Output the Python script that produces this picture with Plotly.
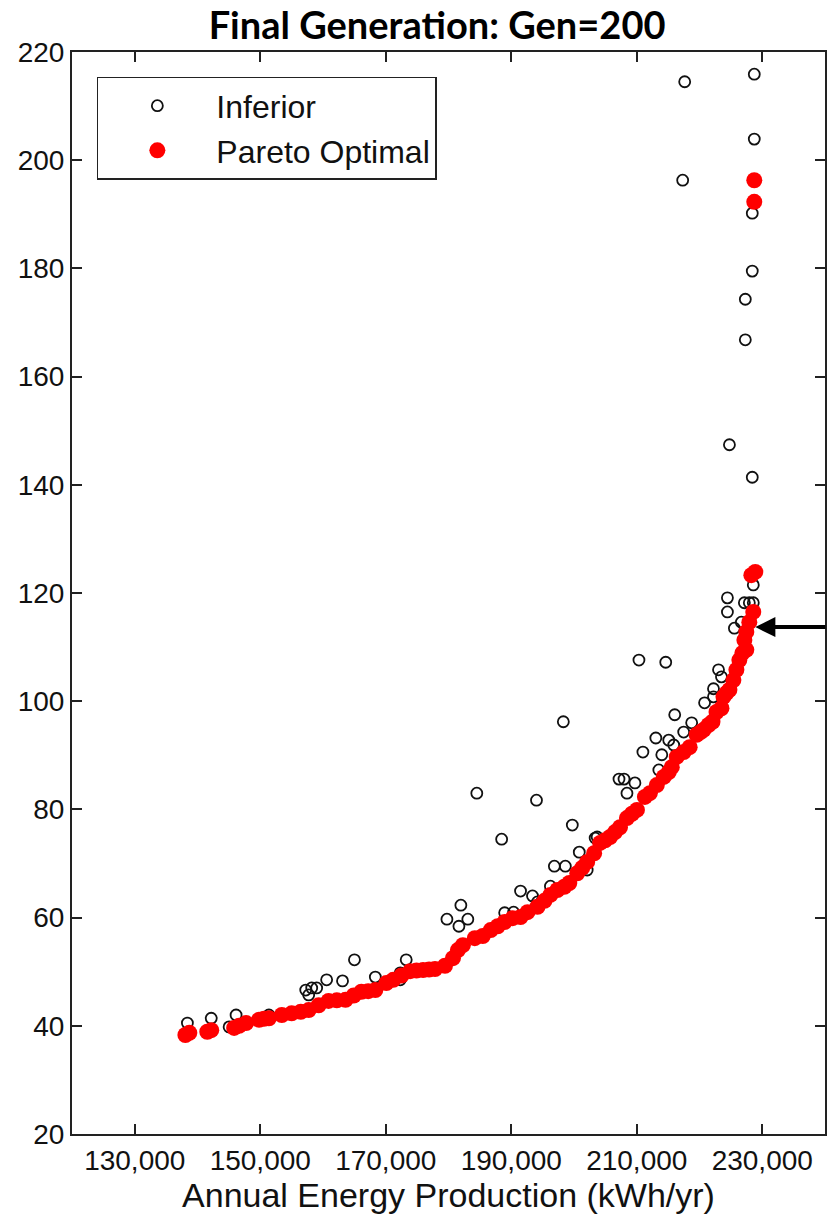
import plotly.graph_objects as go

# Pareto-front members (annual energy in kWh/yr, objective value)
pareto_x = [138070, 138700, 141560, 142190, 145840, 146630, 147740, 149800, 150600, 151380,
            153440, 155000, 156460, 157720, 159310, 160890, 162200, 163590, 164900, 166120,
            167200, 168340, 170090, 171200, 172500, 173890, 174900, 175950, 176900, 177850,
            179440, 180710, 181500, 182290, 184190, 185460, 186730, 187840, 188950, 190220,
            191480, 192590, 194180, 195290, 196240, 197350, 198460, 199250, 200520, 201310,
            202100, 203210, 204160, 204960, 205750, 206540, 207330, 208440, 209240, 210030,
            211300, 212090, 213200, 214310, 215100, 215580, 216370, 217480, 218430, 219540,
            220170, 220650, 221440, 222070, 222710, 223500, 223820, 224290, 224770, 225400,
            225880, 226350, 226830, 227460, 227150, 227460, 227940, 228570, 228260, 228890,
            228730, 228730]
pareto_y = [38.3, 38.7, 38.9, 39.2, 39.6, 40.0, 40.5, 41.1, 41.3, 41.4,
            42.0, 42.3, 42.6, 42.9, 43.8, 44.6, 44.7, 44.8, 45.6, 46.3,
            46.4, 46.6, 47.9, 48.5, 49.3, 50.1, 50.2, 50.3, 50.4, 50.5,
            51.1, 52.5, 54.0, 54.9, 56.2, 56.6, 57.7, 58.4, 59.2, 59.9,
            60.1, 61.0, 62.0, 63.1, 64.2, 65.1, 65.7, 66.4, 68.2, 69.2,
            70.3, 71.9, 73.8, 74.3, 74.9, 75.8, 76.7, 78.4, 79.2, 79.9,
            82.3, 83.0, 84.5, 86.0, 86.9, 87.8, 89.7, 90.6, 91.5, 93.8,
            94.3, 94.7, 95.6, 96.2, 98.0, 98.7, 100.8, 101.5, 102.1, 103.9,
            105.8, 107.6, 108.9, 109.5, 111.3, 112.8, 114.6, 116.5, 123.3, 123.9,
            196.3, 192.3]

# Dominated solutions
inferior_x = [217640, 228730, 228730, 217320, 228410, 228410, 227300, 227300, 224770, 228410,
              228570, 224450, 224450, 227940, 228570, 227150, 225560, 226670, 223030, 223500,
              222230, 220810, 222230, 210350, 214620, 216050, 198300, 218750, 217480, 213040,
              215100, 215890, 210980, 213990, 213520, 207170, 207970, 209710, 208440, 184510,
              194020, 199730, 188470, 203370, 200840, 196870, 198620, 202100, 203690, 191480,
              196240, 193390, 181970, 179750, 183080, 181660, 188950, 190370, 194180, 165010,
              160580, 163110, 168340, 157250, 158200, 158990, 157720, 172310, 172310, 173260,
              138390, 142190, 146150, 145040, 151380]
inferior_y = [214.5, 215.9, 203.9, 196.3, 190.2, 179.5, 174.3, 166.8, 147.4, 141.4,
              121.5, 119.1, 116.5, 118.2, 118.2, 118.2, 113.5, 114.6, 105.8, 104.5,
              102.3, 99.7, 100.8, 107.6, 107.2, 97.5, 96.2, 96.0, 94.3, 93.2,
              92.8, 91.9, 90.6, 90.1, 87.3, 85.6, 85.6, 84.9, 83.0, 83.0,
              81.7, 77.1, 74.5, 74.7, 72.1, 69.5, 69.5, 68.8, 74.9, 64.9,
              65.8, 64.0, 62.3, 59.7, 59.7, 58.4, 60.9, 61.0, 62.9, 52.2,
              48.5, 48.3, 49.0, 46.6, 47.0, 47.0, 45.7, 49.8, 48.5, 52.2,
              40.5, 41.4, 42.0, 39.8, 42.0]

x_ticks = [130000, 150000, 170000, 190000, 210000, 230000]
x_tick_text = ["130,000", "150,000", "170,000", "190,000", "210,000", "230,000"]
y_ticks = [20, 40, 60, 80, 100, 120, 140, 160, 180, 200, 220]

# Selected design indicated by the arrow
pick_x, pick_y = 228900, 113.7

SANS = "'Liberation Sans', Arial, sans-serif"

fig = go.Figure()
fig.add_trace(go.Scatter(
    x=inferior_x, y=inferior_y, mode="markers", name="Inferior",
    marker=dict(symbol="circle-open", size=11, color="#111111", line=dict(width=1.8)),
))
fig.add_trace(go.Scatter(
    x=pareto_x, y=pareto_y, mode="markers", name="Pareto Optimal",
    marker=dict(symbol="circle", size=16, color="#ff0000", line=dict(width=0)),
))

fig.add_annotation(
    x=pick_x, y=pick_y, xref="x", yref="y", text="",
    showarrow=True, arrowhead=2, arrowsize=1, arrowwidth=4, arrowcolor="black",
    ax=90, ay=0,
)

axis_common = dict(
    showline=True, linecolor="#222222", linewidth=2, mirror="ticks",
    ticks="inside", ticklen=10, tickwidth=1.5, tickcolor="#222222",
    showgrid=False, zeroline=False,
    tickfont=dict(family=SANS, size=28, color="#111111"),
)

fig.update_layout(
    width=827, height=1224,
    margin=dict(l=72, r=0, t=52, b=90),
    paper_bgcolor="white", plot_bgcolor="white",
    title=dict(
        text="<b>Final Generation: Gen=200</b>",
        font=dict(family="Lato, Carlito, Calibri, sans-serif", size=38, color="black"),
        xref="container", x=0.5285, xanchor="center",
        yref="container", y=0.979, yanchor="middle",
    ),
    xaxis=dict(
        range=[120000, 240000], tickvals=x_ticks, ticktext=x_tick_text,
        title=dict(text="Annual Energy Production (kWh/yr)",
                   font=dict(family=SANS, size=34, color="#111111"), standoff=6),
        **axis_common,
    ),
    yaxis=dict(range=[20, 220], tickvals=y_ticks, **axis_common),
    legend=dict(
        x=0.033, y=0.977, xanchor="left", yanchor="top",
        bgcolor="white", bordercolor="#222222", borderwidth=1.5,
        font=dict(family=SANS, size=32, color="#111111"),
        itemwidth=108,
    ),
    showlegend=True,
)

fig.write_html("out.html")
